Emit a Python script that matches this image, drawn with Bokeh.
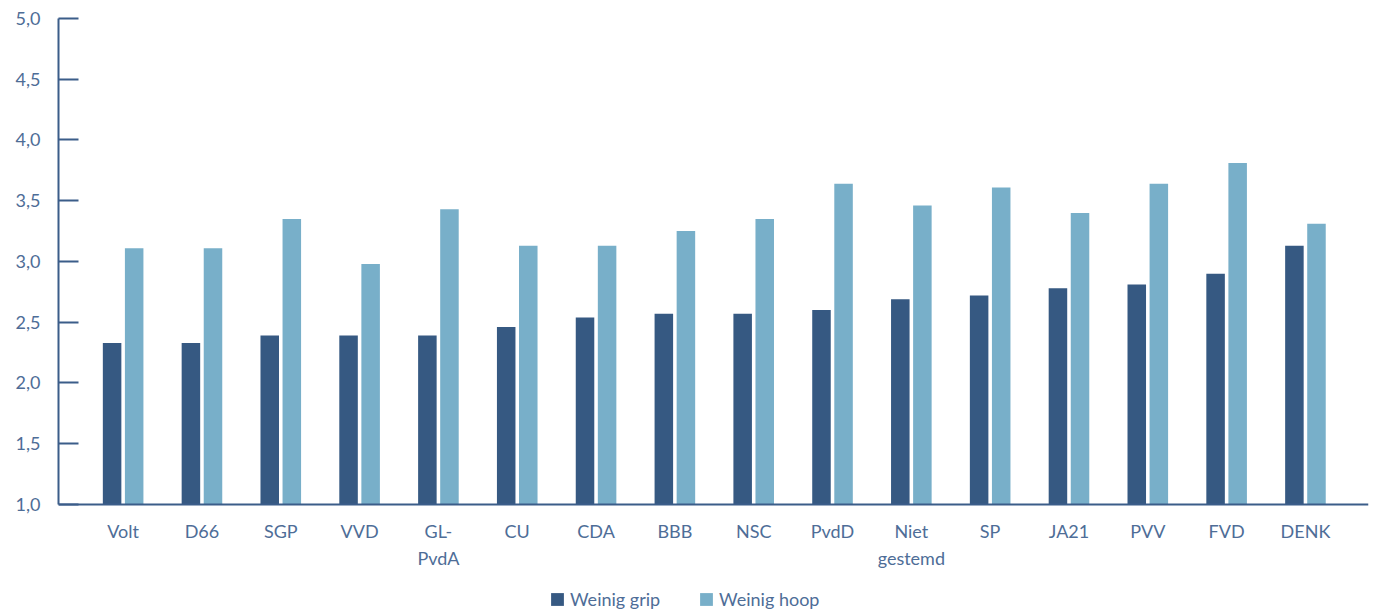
from bokeh.plotting import figure
from bokeh.models import Range1d, FixedTicker, Legend, LegendItem, ColumnDataSource
from bokeh.embed import file_html
from bokeh.resources import INLINE

parties = ["Volt", "D66", "SGP", "VVD", "GL-\nPvdA", "CU", "CDA", "BBB", "NSC", "PvdD",
           "Niet\ngestemd", "SP", "JA21", "PVV", "FVD", "DENK"]
weinig_grip = [2.33, 2.33, 2.39, 2.39, 2.39, 2.46, 2.54, 2.57, 2.57, 2.60, 2.69, 2.72, 2.78, 2.81, 2.90, 3.13]
weinig_hoop = [3.11, 3.11, 3.35, 2.98, 3.43, 3.13, 3.13, 3.25, 3.35, 3.64, 3.46, 3.61, 3.40, 3.64, 3.81, 3.31]
y_ticks = [1.0, 1.5, 2.0, 2.5, 3.0, 3.5, 4.0, 4.5, 5.0]
y_tick_labels = ["1,0", "1,5", "2,0", "2,5", "3,0", "3,5", "4,0", "4,5", "5,0"]

DARK = "#365982"
LIGHT = "#78afc9"
AXIS = "#3b5d89"
TEXT = "#4e6d97"
FONT = "Lato"

idx = list(range(len(parties)))
src = ColumnDataSource(dict(
    x_grip=[i - 0.14 for i in idx],
    x_hoop=[i + 0.14 for i in idx],
    grip=weinig_grip,
    hoop=weinig_hoop,
))

# frame extends below the x axis (at y=1) so the legend can sit inside it
p = figure(width=1372, height=612, output_backend="svg", toolbar_location=None,
           x_range=Range1d(-0.82, 15.8), y_range=Range1d(0.111, 5),
           min_border_left=58, min_border_right=4, min_border_top=18, min_border_bottom=0)
p.outline_line_color = None
p.xgrid.visible = False
p.ygrid.visible = False
p.background_fill_color = "white"
p.border_fill_color = "white"

r1 = p.vbar(x="x_grip", top="grip", bottom=1, width=0.235, source=src, fill_color=DARK, line_color=None)
r2 = p.vbar(x="x_hoop", top="hoop", bottom=1, width=0.235, source=src, fill_color=LIGHT, line_color=None)

# y axis
ya = p.yaxis[0]
ya.bounds = (1, 5)
ya.ticker = FixedTicker(ticks=y_ticks)
ya.major_label_overrides = {t: l for t, l in zip(y_ticks, y_tick_labels)}
ya.major_tick_in = 20
ya.major_tick_out = 0
ya.minor_tick_line_color = None
ya.axis_line_color = AXIS
ya.axis_line_width = 2
ya.major_tick_line_color = AXIS
ya.major_tick_line_width = 2
ya.major_label_text_color = TEXT
ya.major_label_text_font = FONT
ya.major_label_text_font_size = "18px"
ya.major_label_standoff = 18

# x axis, fixed at y = 1
xa = p.xaxis[0]
xa.fixed_location = 1
xa.ticker = FixedTicker(ticks=idx)
xa.major_label_overrides = {i: n for i, n in zip(idx, parties)}
xa.major_tick_in = 0
xa.major_tick_out = 0
xa.minor_tick_line_color = None
xa.axis_line_color = AXIS
xa.axis_line_width = 2
xa.major_label_text_color = TEXT
xa.major_label_text_font = FONT
xa.major_label_text_font_size = "18px"
xa.major_label_standoff = 16

legend = Legend(items=[LegendItem(label="Weinig grip", renderers=[r1]),
                       LegendItem(label="Weinig hoop", renderers=[r2])],
                orientation="horizontal", location=(491, 2))
legend.glyph_width = 16
legend.glyph_height = 16
legend.label_standoff = 5
legend.spacing = 38
legend.padding = 0
legend.margin = 0
legend.border_line_color = None
legend.background_fill_alpha = 0
legend.label_text_color = TEXT
legend.label_text_font = FONT
legend.label_text_font_size = "18px"
legend.label_height = 16
p.add_layout(legend, "center")

open("out.html", "w").write(file_html(p, INLINE))
